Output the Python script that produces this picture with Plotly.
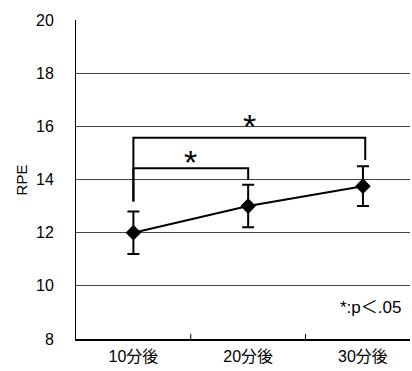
import plotly.graph_objects as go

categories = ["10分後", "20分後", "30分後"]
rpe_mean = [12.0, 13.0, 13.75]
rpe_sd = [0.8, 0.8, 0.75]
y_ticks = [8, 10, 12, 14, 16, 18, 20]

# significance brackets: (from index, to index, top, left end, right end)
bracket_from = [0, 0]
bracket_to = [1, 2]
bracket_top = [14.42, 15.57]
bracket_left_end = [13.17, 13.17]
bracket_right_end = [13.98, 14.73]
star_y = [14.84, 16.21]
sig_note = "*:p\uff1c.05"

FONT = "Liberation Sans, Arial, Noto Sans CJK JP"

fig = go.Figure()
fig.add_trace(go.Scatter(
    x=list(range(len(categories))), y=rpe_mean,
    mode="lines+markers",
    line=dict(color="black", width=2),
    marker=dict(symbol="diamond", size=12, color="black"),
    error_y=dict(type="data", array=rpe_sd, visible=True, color="black", thickness=2, width=6),
    showlegend=False, hoverinfo="skip",
))

shapes = []
annotations = []
for i in range(len(bracket_top)):
    x0 = bracket_from[i]
    x1 = bracket_to[i] + (0.02 if bracket_to[i] == 2 else 0)
    shapes.append(dict(
        type="path", xref="x", yref="y",
        path=f"M {x0} {bracket_left_end[i]} L {x0} {bracket_top[i]} L {x1} {bracket_top[i]} L {x1} {bracket_right_end[i]}",
        line=dict(color="black", width=2),
    ))
    annotations.append(dict(
        x=(x0 + x1) / 2, y=star_y[i], xref="x", yref="y",
        text="*", showarrow=False, yanchor="middle", yshift=-5,
        font=dict(family=FONT, size=34, color="black"),
    ))

annotations.append(dict(
    x=0.978, y=9.17, xref="paper", yref="y", xanchor="right", yanchor="middle",
    text=sig_note, showarrow=False,
    font=dict(family=FONT, size=17, color="black"),
))
annotations.append(dict(
    x=-0.162, y=0.5, xref="paper", yref="paper", xanchor="center", yanchor="middle",
    text="RPE", textangle=-90, showarrow=False,
    font=dict(family=FONT, size=15, color="black"),
))

fig.update_layout(
    width=412, height=371,
    margin=dict(l=76, r=2, t=20, b=32, autoexpand=False),
    paper_bgcolor="white", plot_bgcolor="white",
    shapes=shapes, annotations=annotations,
    font=dict(family=FONT, color="black"),
)
fig.update_xaxes(
    range=[-0.5, 2.41], automargin=False,
    tickmode="array", tickvals=list(range(len(categories))), ticktext=categories,
    showgrid=False, zeroline=False,
    showline=True, linecolor="black", linewidth=1.5,
    ticks="", ticklabelstandoff=2,
    tickfont=dict(family=FONT, size=16, color="black"),
)
for b in [0.5, 1.5]:
    fig.add_shape(type="line", xref="x", yref="paper", x0=b, x1=b, y0=0, y1=0.016,
                  line=dict(color="black", width=1))
fig.update_yaxes(
    range=[8, 20], tickvals=y_ticks, automargin=False,
    showgrid=True, gridcolor="#444", gridwidth=1,
    zeroline=False, showline=True, linecolor="black", linewidth=1,
    ticks="", ticklabelstandoff=18,
    tickfont=dict(family=FONT, size=16, color="black"),
)

fig.write_html("out.html", config={"displayModeBar": False},
               post_script="document.body.style.margin='0';")
